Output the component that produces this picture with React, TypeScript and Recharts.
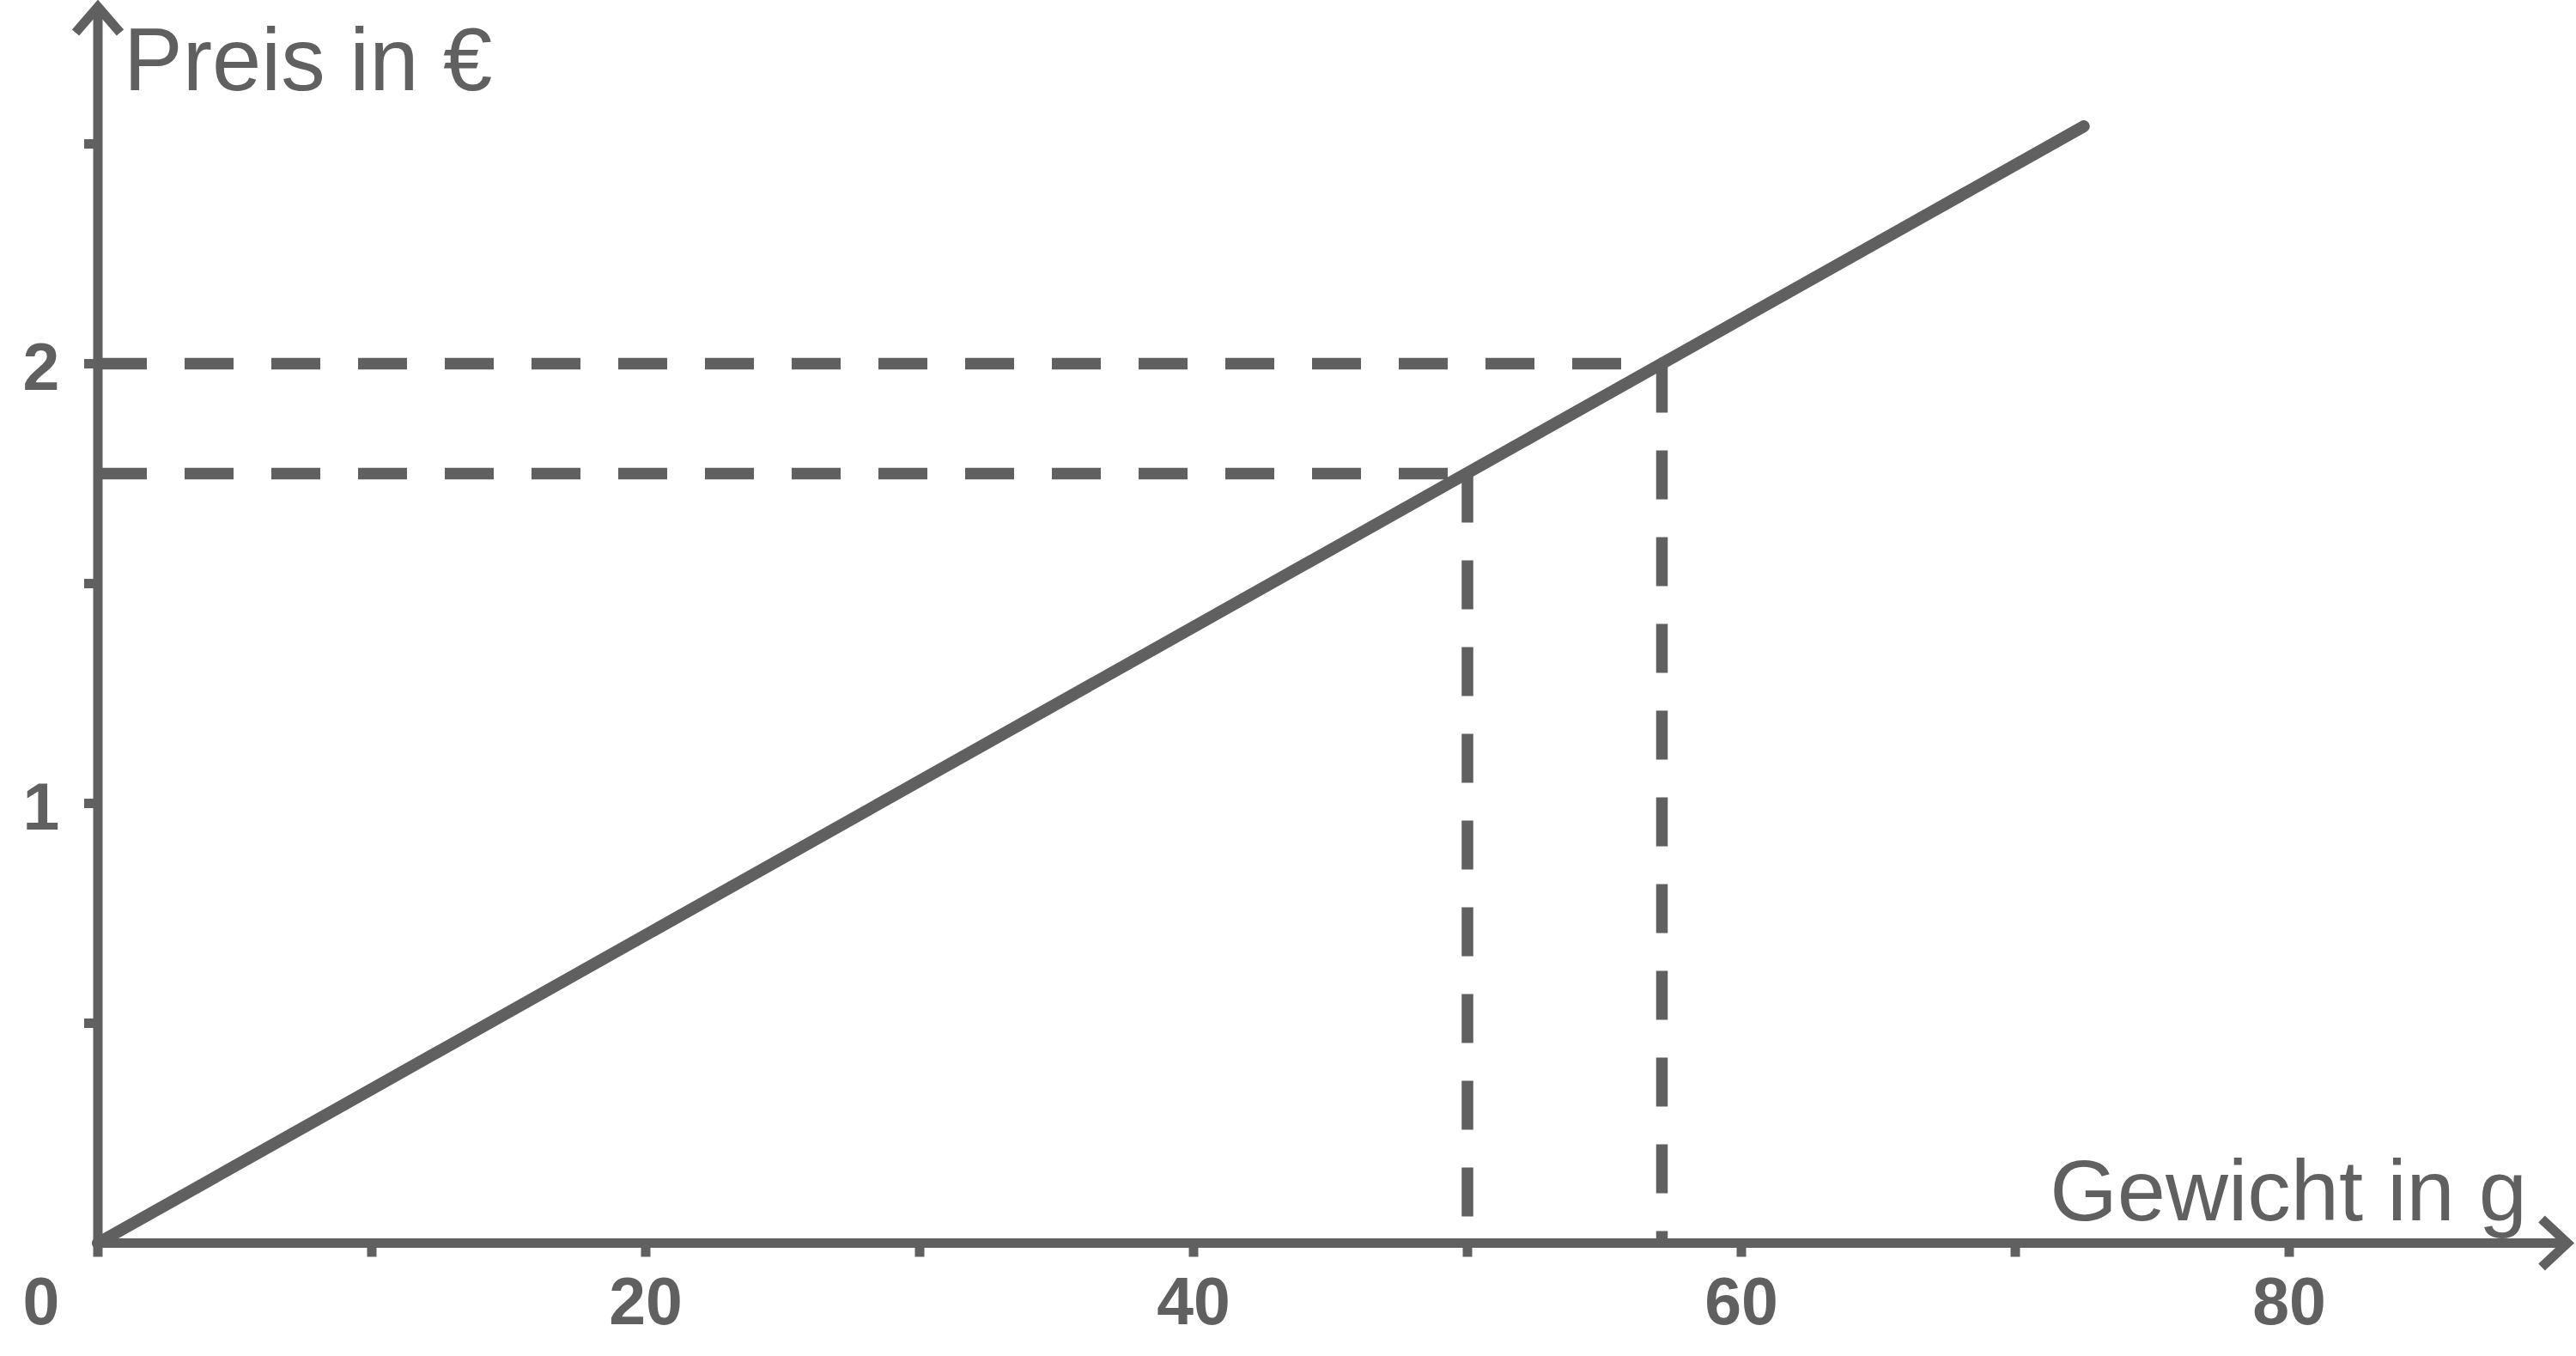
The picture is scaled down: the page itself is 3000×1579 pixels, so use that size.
import React from 'react';
import { LineChart, Line, XAxis, YAxis, ReferenceLine, ReferenceDot, Label } from 'recharts';

const weights = [0, 72.5];
const prices = [0, 2.54];

const guideWeights = [50, 57.1];
const guidePrices = [1.75, 2];

const xTicks = [0, 10, 20, 30, 40, 50, 60, 70, 80];
const xLabels = [0, 20, 40, 60, 80];
const yTicks = [0.5, 1, 1.5, 2, 2.5];
const yLabels = [1, 2];

const xTitle = 'Gewicht in g';
const yTitle = 'Preis in €';

const GREY = '#606060';
const FONT = '"Liberation Sans", Arial, Helvetica, sans-serif';

const data = weights.map((g, i) => ({ g, eur: prices[i] }));

function XTick({ x, y, payload }: any) {
  if (!xLabels.includes(payload.value)) return null;
  // die Null steht links vom Ursprung, unter den y-Beschriftungen
  const tx = payload.value === 0 ? x - 66 : x;
  return (
    <text x={tx} y={y + 78} textAnchor="middle" fill={GREY}
      fontFamily={FONT} fontWeight="bold" fontSize={77}>
      {payload.value}
    </text>
  );
}

function YTick({ x, y, payload }: any) {
  if (!yLabels.includes(payload.value)) return null;
  return (
    <text x={x - 50} y={y + 30} textAnchor="middle" fill={GREY}
      fontFamily={FONT} fontWeight="bold" fontSize={77}>
      {payload.value}
    </text>
  );
}

const xArrow = ({ cx, cy }: any) => (
  <path d={`M${cx} ${cy} L${cx + 5} ${cy} M${cx - 25} ${cy - 28} L${cx + 5} ${cy} L${cx - 25} ${cy + 28}`}
    stroke={GREY} strokeWidth={11} fill="none" />
);

const yArrow = ({ cx, cy }: any) => (
  <path d={`M${cx} ${cy} L${cx} ${cy - 6} M${cx - 26} ${cy + 24} L${cx} ${cy - 6} L${cx + 26} ${cy + 24}`}
    stroke={GREY} strokeWidth={11} fill="none" />
);

export default function App() {
  const axisStyle = { stroke: GREY, strokeWidth: 11 };
  const dash = '57 44';

  return (
    <div style={{ position: 'absolute', left: 0, top: 0, width: 3000, height: 1579, background: '#fff' }}>
      <LineChart
        width={3000}
        height={1579}
        data={data}
        margin={{ top: 14, right: 15, bottom: 130.5, left: 113 }}
      >
        <XAxis
          type="number"
          dataKey="g"
          domain={[0, 90]}
          ticks={xTicks}
          interval={0}
          height={1}
          tickSize={16}
          tickMargin={0}
          axisLine={axisStyle}
          tickLine={axisStyle}
          tick={<XTick />}
        >
          <Label
            content={({ viewBox }: any) => (
              <text x={viewBox.x + viewBox.width - 42} y={1421} textAnchor="end"
                fill={GREY} fontFamily={FONT} fontSize={101}>
                {xTitle}
              </text>
            )}
          />
        </XAxis>
        <YAxis
          type="number"
          domain={[0, 2.8]}
          ticks={yTicks}
          interval={0}
          width={1}
          tickSize={16}
          tickMargin={0}
          axisLine={axisStyle}
          tickLine={axisStyle}
          tick={<YTick />}
        >
          <Label
            content={({ viewBox }: any) => (
              <text x={viewBox.x + viewBox.width + 30} y={105} textAnchor="start"
                fill={GREY} fontFamily={FONT} fontSize={103}>
                {yTitle}
              </text>
            )}
          />
        </YAxis>

        {guidePrices.map((p, i) => (
          <ReferenceLine
            key={`h${i}`}
            segment={[{ x: 0, y: p }, { x: guideWeights[i], y: p }]}
            stroke={GREY}
            strokeWidth={13.5}
            strokeDasharray={dash}
            ifOverflow="visible"
          />
        ))}
        {guideWeights.map((g, i) => (
          <ReferenceLine
            key={`v${i}`}
            segment={[{ x: g, y: guidePrices[i] }, { x: g, y: 0 }]}
            stroke={GREY}
            strokeWidth={13.5}
            strokeDasharray={dash}
            ifOverflow="visible"
          />
        ))}

        <Line
          type="linear"
          dataKey="eur"
          stroke={GREY}
          strokeWidth={14}
          strokeLinecap="round"
          dot={false}
          activeDot={false}
          isAnimationActive={false}
        />

        <ReferenceDot x={90} y={0} r={1} shape={xArrow} ifOverflow="visible" />
        <ReferenceDot x={0} y={2.8} r={1} shape={yArrow} ifOverflow="visible" />
      </LineChart>
    </div>
  );
}
